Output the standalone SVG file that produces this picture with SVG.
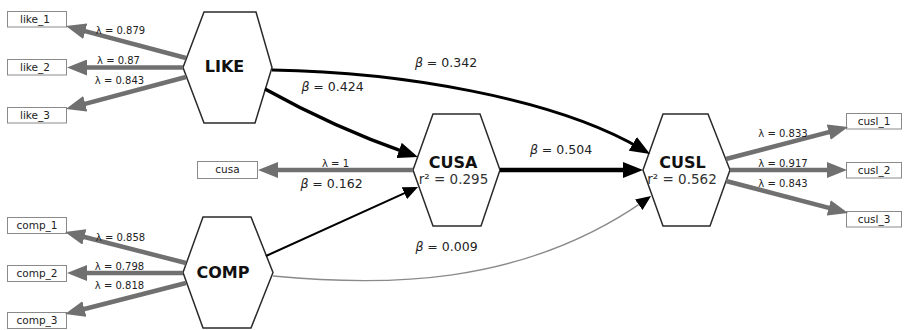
<svg xmlns="http://www.w3.org/2000/svg" width="906" height="330" viewBox="0 0 906 330">
<style>
text{font-family:"DejaVu Sans","Liberation Sans",sans-serif;fill:#111}
.hex{fill:#fff;stroke:#2a2a2a;stroke-width:1.5}
.box{fill:#fff;stroke:#8a8a8a;stroke-width:1}
.bt{font-size:10.5px;text-anchor:middle;fill:#222}
.nl{font-size:16px;font-weight:bold;text-anchor:middle}
.r2{font-size:13.5px;text-anchor:middle;fill:#333}
.lam{font-size:10px;text-anchor:middle;fill:#222}
.beta{font-size:12.5px;text-anchor:middle;fill:#222}
.gl{fill:none;stroke:#707070;stroke-width:4.5;marker-end:url(#mg)}
.bl{fill:none;stroke:#000}
</style>
<defs>
<marker id="mg" markerUnits="userSpaceOnUse" viewBox="0 0 20 16" markerWidth="20" markerHeight="16" refX="10" refY="8" orient="auto"><path d="M0,0 L20,8 L0,16 z" fill="#707070"/></marker>
<marker id="mb" markerUnits="userSpaceOnUse" viewBox="0 0 20 16" markerWidth="20" markerHeight="16" refX="10" refY="8" orient="auto"><path d="M0,0 L20,8 L0,16 z" fill="#000"/></marker>
<marker id="ms" markerUnits="userSpaceOnUse" viewBox="0 0 15 13" markerWidth="15" markerHeight="13" refX="7.5" refY="6.5" orient="auto"><path d="M0,0 L15,6.5 L0,13 z" fill="#000"/></marker>
</defs>

<g id="node-LIKE"><polygon class="hex" points="204,12 256,12 272,67.5 255,123 204,123 183,67.5"/><text class="nl" x="224.5" y="72">LIKE</text></g>
<g id="node-COMP"><polygon class="hex" points="203,217 251,217 273,272.5 251,328 203,328 183,272.5"/><text class="nl" x="223" y="278">COMP</text></g>
<g id="node-CUSA"><polygon class="hex" points="433,114 480,114 500,170 481,226 433,226 413,170"/><text class="nl" x="453" y="168">CUSA</text><text class="r2" x="453.5" y="184">r² = 0.295</text></g>
<g id="node-CUSL"><polygon class="hex" points="663,114 708,114 730,170 710,226 663,226 643,170"/><text class="nl" x="682.5" y="168">CUSL</text><text class="r2" x="682" y="184">r² = 0.562</text></g>

<g id="node-like_1"><rect class="box" x="7.5" y="11.5" width="59" height="15.5"/><text class="bt" x="35" y="23">like_1</text></g>
<g id="node-like_2"><rect class="box" x="7.5" y="59.5" width="59" height="15.5"/><text class="bt" x="35" y="71">like_2</text></g>
<g id="node-like_3"><rect class="box" x="7.5" y="107.5" width="59" height="15.5"/><text class="bt" x="35" y="119">like_3</text></g>
<g id="node-comp_1"><rect class="box" x="7.5" y="217.5" width="59" height="16"/><text class="bt" x="37" y="229">comp_1</text></g>
<g id="node-comp_2"><rect class="box" x="7.5" y="265.5" width="59" height="16"/><text class="bt" x="37" y="277">comp_2</text></g>
<g id="node-comp_3"><rect class="box" x="7.5" y="312.5" width="59" height="16"/><text class="bt" x="37" y="324">comp_3</text></g>
<g id="node-cusa"><rect class="box" x="197.5" y="161.5" width="60" height="17"/><text class="bt" x="227.5" y="173">cusa</text></g>
<g id="node-cusl_1"><rect class="box" x="846.5" y="113.5" width="55" height="15.5"/><text class="bt" x="874" y="125">cusl_1</text></g>
<g id="node-cusl_2"><rect class="box" x="846.5" y="162.5" width="55" height="15.5"/><text class="bt" x="874" y="174">cusl_2</text></g>
<g id="node-cusl_3"><rect class="box" x="846.5" y="211.5" width="55" height="15.5"/><text class="bt" x="874" y="223">cusl_3</text></g>

<g id="connectors">
<path class="gl" d="M186,58 L75.6,28.6"/>
<path class="gl" d="M183,67.5 L77,67.5"/>
<path class="gl" d="M186,77 L75.6,106.4"/>
<path class="gl" d="M186,263 L74.7,234.5"/>
<path class="gl" d="M183,273 L77,273"/>
<path class="gl" d="M186,283 L74.7,311.5"/>
<path class="gl" d="M413,170 L268,170"/>
<path class="gl" d="M726,159 L838.4,129.6"/>
<path class="gl" d="M730,170 L837,170"/>
<path class="gl" d="M726,181 L838.4,210.4"/>
<path class="bl" stroke-width="3.5" marker-end="url(#mb)" d="M265,89 Q333,127 408.5,153.7"/>
<path class="bl" stroke-width="3" marker-end="url(#mb)" d="M272,70 C400,72 555,98 641.4,148.9"/>
<path class="bl" stroke-width="4.5" marker-end="url(#mb)" d="M500,170 L633,170"/>
<path class="bl" stroke-width="2" marker-end="url(#ms)" d="M266,256 L411.2,190.1"/>
<path fill="none" stroke="#8a8a8a" stroke-width="1.3" marker-end="url(#ms)" d="M273,276 C380,286 520,288 644.9,200.4"/>
<text class="lam" x="120.5" y="34">λ = 0.879</text>
<text class="lam" x="118.5" y="64">λ = 0.87</text>
<text class="lam" x="119.5" y="84">λ = 0.843</text>
<text class="lam" x="120.5" y="241">λ = 0.858</text>
<text class="lam" x="119.5" y="270">λ = 0.798</text>
<text class="lam" x="119.5" y="289">λ = 0.818</text>
<text class="lam" x="335.5" y="167">λ = 1</text>
<text class="lam" x="783" y="137">λ = 0.833</text>
<text class="lam" x="783" y="167">λ = 0.917</text>
<text class="lam" x="783" y="187">λ = 0.843</text>
<text class="beta" x="446" y="67"><tspan font-style="italic">β</tspan> = 0.342</text>
<text class="beta" x="332.5" y="91"><tspan font-style="italic">β</tspan> = 0.424</text>
<text class="beta" x="561" y="154"><tspan font-style="italic">β</tspan> = 0.504</text>
<text class="beta" x="331.5" y="188"><tspan font-style="italic">β</tspan> = 0.162</text>
<text class="beta" x="446.5" y="251"><tspan font-style="italic">β</tspan> = 0.009</text>
</g>
</svg>
